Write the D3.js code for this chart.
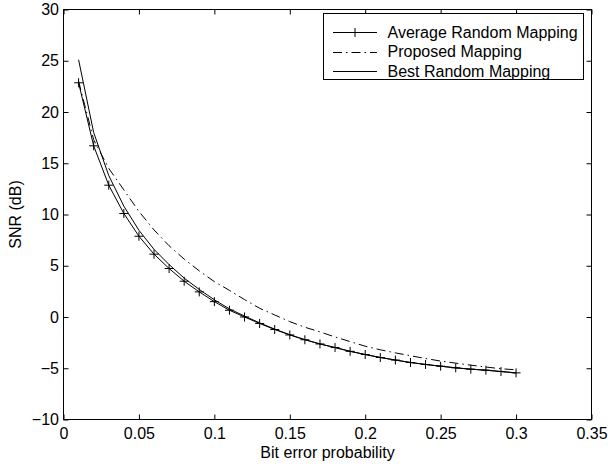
<!DOCTYPE html>
<html>
<head>
<meta charset="utf-8">
<script src="https://cdn.jsdelivr.net/npm/d3@7"></script>
<style>
  html, body { margin: 0; padding: 0; background: #fff; }
  svg { display: block; font-family: "Liberation Sans", Arial, Helvetica, sans-serif; }
</style>
</head>
<body>
<svg id="chart" width="608" height="467"></svg>
<script>
// ---- data ----
const berValues = [0.01,0.02,0.03,0.04,0.05,0.06,0.07,0.08,0.09,0.10,
                   0.11,0.12,0.13,0.14,0.15,0.16,0.17,0.18,0.19,0.20,
                   0.21,0.22,0.23,0.24,0.25,0.26,0.27,0.28,0.29,0.30];
const averageRandom = [22.85,16.7,12.86,10.1,7.88,6.13,4.73,3.49,2.45,1.5,
                       0.66,0.0,-0.63,-1.22,-1.75,-2.22,-2.63,-2.98,-3.35,-3.66,
                       -3.95,-4.2,-4.44,-4.63,-4.8,-4.96,-5.09,-5.19,-5.32,-5.45];
const proposed = [23.0,17.3,14.5,12.4,10.3,8.5,6.95,5.65,4.5,3.45,
                  2.6,1.7,0.85,0.2,-0.45,-1.0,-1.45,-1.95,-2.4,-2.85,
                  -3.2,-3.5,-3.78,-4.05,-4.3,-4.5,-4.7,-4.88,-5.05,-5.15];
const bestRandom = [25.1,18.0,13.8,10.82,8.46,6.6,5.11,3.79,2.69,1.68,
                    0.79,0.09,-0.57,-1.18,-1.73,-2.21,-2.63,-2.98,-3.35,-3.66,
                    -3.95,-4.2,-4.44,-4.63,-4.8,-4.96,-5.09,-5.19,-5.32,-5.45];
const xTicks = [0,0.05,0.1,0.15,0.2,0.25,0.3,0.35];
const xTickLabels = ["0","0.05","0.1","0.15","0.2","0.25","0.3","0.35"];
const yTicks = [-10,-5,0,5,10,15,20,25,30];
const yTickLabels = ["\u221210","\u22125","0","5","10","15","20","25","30"];
const seriesNames = ["Average Random Mapping","Proposed Mapping","Best Random Mapping"];
const xTitle = "Bit error probability";
const yTitle = "SNR (dB)";

// ---- layout ----
const L = 63.5, R = 591.5, T = 9.5, B = 419.5;
const svg = d3.select("#chart");
const x = d3.scaleLinear().domain([0, 0.35]).range([L, R]);
const y = d3.scaleLinear().domain([-10, 30]).range([B, T]);
const fontSize = 16;
const dashDot = "9,4,1.5,4";

// axes
const fmtX = d => xTickLabels[xTicks.indexOf(d)];
const fmtY = d => yTickLabels[yTicks.indexOf(d)];

function styleAxis(g) {
  g.select(".domain").remove();
  g.selectAll("line").attr("stroke", "#000").attr("stroke-width", 1);
  g.selectAll("text").attr("fill", "#000").style("font-size", fontSize + "px")
    .style("font-family", '"Liberation Sans", Arial, sans-serif');
}

svg.append("g").attr("transform", `translate(0,${B})`)
  .call(d3.axisBottom(x).tickValues(xTicks).tickFormat(fmtX).tickSizeInner(-5).tickSizeOuter(0).tickPadding(8.5))
  .call(styleAxis);
svg.append("g").attr("transform", `translate(0,${T})`)
  .call(d3.axisTop(x).tickValues(xTicks).tickFormat("").tickSizeInner(-5).tickSizeOuter(0))
  .call(styleAxis);
svg.append("g").attr("transform", `translate(${L},0)`)
  .call(d3.axisLeft(y).tickValues(yTicks).tickFormat(fmtY).tickSizeInner(-5).tickSizeOuter(0).tickPadding(4.5))
  .call(styleAxis);
svg.append("g").attr("transform", `translate(${R},0)`)
  .call(d3.axisRight(y).tickValues(yTicks).tickFormat("").tickSizeInner(-5).tickSizeOuter(0))
  .call(styleAxis);

// frame
svg.append("rect").attr("x", L).attr("y", T).attr("width", R - L).attr("height", B - T)
  .attr("fill", "none").attr("stroke", "#000").attr("stroke-width", 1);

// titles
svg.append("text").attr("x", (L + R) / 2).attr("y", 457.5).attr("text-anchor", "middle")
  .style("font-size", fontSize + "px").text(xTitle);
svg.append("text").attr("transform", `translate(21,${(T + B) / 2}) rotate(-90)`)
  .attr("text-anchor", "middle").style("font-size", fontSize + "px").text(yTitle);

// lines
const line = d3.line().x((d, i) => x(berValues[i])).y(d => y(d));
const plot = svg.append("g");
plot.append("path").datum(bestRandom).attr("d", line)
  .attr("fill", "none").attr("stroke", "#000").attr("stroke-width", 1);
plot.append("path").datum(proposed).attr("d", line)
  .attr("fill", "none").attr("stroke", "#000").attr("stroke-width", 1).attr("stroke-dasharray", dashDot);
plot.append("path").datum(averageRandom).attr("d", line)
  .attr("fill", "none").attr("stroke", "#000").attr("stroke-width", 1);

// plus markers
const plusPath = (cx, cy, h) => `M${cx - h},${cy}H${cx + h}M${cx},${cy - h}V${cy + h}`;
plot.selectAll(".mk").data(averageRandom).join("path")
  .attr("d", (d, i) => plusPath(x(berValues[i]), y(d), 4.5))
  .attr("stroke", "#000").attr("stroke-width", 1).attr("fill", "none");

// legend
const lg = svg.append("g");
const lgX0 = 323, lgY0 = 13.5, lgW = 260, lgH = 66;
lg.append("rect").attr("x", lgX0 + 0.5).attr("y", lgY0).attr("width", lgW).attr("height", lgH)
  .attr("fill", "#fff").attr("stroke", "#000").attr("stroke-width", 1);
const rows = [31.7, 51.5, 71];
const dashes = [null, dashDot, null];
seriesNames.forEach((name, i) => {
  const cy = Math.round(rows[i]) + 0.5;
  lg.append("line").attr("x1", 333).attr("x2", 377).attr("y1", cy).attr("y2", cy)
    .attr("stroke", "#000").attr("stroke-width", 1)
    .attr("stroke-dasharray", dashes[i]);
  if (i === 0) {
    lg.append("path").attr("d", plusPath(355, cy, 4.5)).attr("stroke", "#000").attr("stroke-width", 1);
  }
  lg.append("text").attr("x", 387.5).attr("y", rows[i] + 5.8)
    .style("font-size", fontSize + "px").text(name);
});
</script>
</body>
</html>
